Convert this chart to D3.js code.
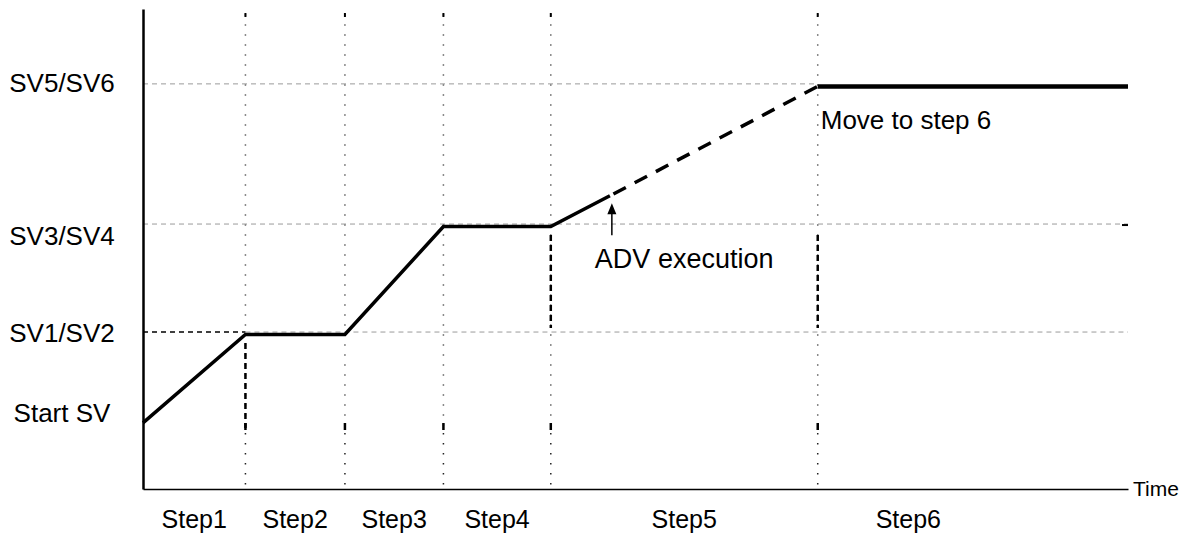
<!DOCTYPE html>
<html>
<head>
<meta charset="utf-8">
<script src="https://cdn.jsdelivr.net/npm/d3@7"></script>
<style>
  html, body { margin: 0; padding: 0; background: #fff; }
  svg { display: block; font-family: "Liberation Sans", Arial, sans-serif; }
</style>
</head>
<body>
<svg id="chart" width="1195" height="538"></svg>
<script>
// Program profile: set-value levels and step boundaries (time units 0..100)
const levelNames  = ["Start SV", "SV1/SV2", "SV3/SV4", "SV5/SV6"];
const levelValues = [14.3, 32.7, 55.2, 84.4];

const stepNames      = ["Step1", "Step2", "Step3", "Step4", "Step5", "Step6"];
const stepBoundaries = [0, 10.4, 20.5, 30.5, 41.4, 68.5, 86.9];

// Profile vertices (time, value); ramp in step 5 is cut short by ADV
const profileTimes  = [0, 10.4, 20.5, 30.5, 41.4, 47.4];
const profileValues = [14.3, 32.7, 32.7, 55.2, 55.2, 61.6];
// Remaining part of the step 5 ramp (skipped), then step 6 soak
const skippedTimes  = [47.4, 68.5];
const skippedValues = [61.6, 84.4];
const soakTimes     = [68.5, 100];
const soakValues    = [84.4, 84.4];

const advTime = 47.6;

const svg = d3.select("#chart");
const x = d3.scaleLinear().domain([0, 100]).range([143, 1128]);
const y = d3.scaleLinear().domain([0, 100]).range([489, 9]);

const gridColor = "#9a9a9a";

// Horizontal reference lines at SV levels (except Start SV)
const hRefs = [
  { v: levelValues[1], x0: stepBoundaries[1], x1: 100 },
  { v: levelValues[2], x0: 0, x1: 100 },
  { v: levelValues[3], x0: 0, x1: stepBoundaries[5] }
];
svg.append("g").selectAll("line").data(hRefs).join("line")
  .attr("x1", d => x(d.x0)).attr("x2", d => x(d.x1))
  .attr("y1", d => y(d.v)).attr("y2", d => y(d.v))
  .attr("stroke", gridColor).attr("stroke-width", 1)
  .attr("stroke-dasharray", "5,4");

// SV1/SV2 lead-in from the axis (darker)
svg.append("line")
  .attr("x1", x(0)).attr("x2", x(stepBoundaries[1]))
  .attr("y1", y(levelValues[1])).attr("y2", y(levelValues[1]))
  .attr("stroke", "#000").attr("stroke-width", 1.5)
  .attr("stroke-dasharray", "5,4");

// small end mark on SV3/SV4 reference
svg.append("line")
  .attr("x1", x(100) - 6).attr("x2", x(100))
  .attr("y1", y(levelValues[2]) + 1).attr("y2", y(levelValues[2]) + 1)
  .attr("stroke", "#000").attr("stroke-width", 2);

// Vertical step dividers
const dividers = stepBoundaries.slice(1, 6);
const vg = svg.append("g");
vg.selectAll("line.upper").data(dividers).join("line").attr("class", "upper")
  .attr("x1", d => x(d)).attr("x2", d => x(d))
  .attr("y1", 14).attr("y2", 428)
  .attr("stroke", "#8a8a8a").attr("stroke-width", 1.5)
  .attr("stroke-dasharray", "2,8");
vg.selectAll("line.lower").data(dividers).join("line").attr("class", "lower")
  .attr("x1", d => x(d)).attr("x2", d => x(d))
  .attr("y1", 433).attr("y2", 489)
  .attr("stroke", "#222").attr("stroke-width", 1.5)
  .attr("stroke-dasharray", "1.5,8.5");
vg.selectAll("line.mark").data(dividers).join("line").attr("class", "mark")
  .attr("x1", d => x(d)).attr("x2", d => x(d))
  .attr("y1", 423).attr("y2", 430)
  .attr("stroke", "#000").attr("stroke-width", 2.5);
vg.selectAll("line.top").data(dividers).join("line").attr("class", "top")
  .attr("x1", d => x(d)).attr("x2", d => x(d))
  .attr("y1", 13).attr("y2", 17)
  .attr("stroke", "#000").attr("stroke-width", 2);

// Drop lines under profile corners
const drops = [
  { t: stepBoundaries[1], v0: levelValues[1], y1: 428 },
  { t: stepBoundaries[4], v0: levelValues[2], y1: 328 },
  { t: stepBoundaries[5], v0: levelValues[2], y1: 328 }
];
svg.append("g").selectAll("line").data(drops).join("line")
  .attr("x1", d => x(d.t)).attr("x2", d => x(d.t))
  .attr("y1", d => y(d.v0) + 11).attr("y2", d => d.y1)
  .attr("stroke", "#000").attr("stroke-width", 2.5)
  .attr("stroke-dasharray", "6,4");

// Axes
const yAxis = d3.axisLeft(y).tickValues(levelValues)
  .tickFormat((d, i) => levelNames[i]).tickSize(0).tickSizeOuter(0);
const yg = svg.append("g").attr("transform", `translate(${x(0)},0)`).call(yAxis);
yg.select(".domain").attr("stroke", "#000").attr("stroke-width", 2.5);
const labelNudge = [-8, 0, 11, -2];
yg.selectAll(".tick text")
  .attr("x", 62 - x(0)).attr("text-anchor", "middle")
  .attr("dy", (d, i) => (0.36 * 26 + labelNudge[i]) + "px")
  .attr("fill", "#000").style("font-size", "26px")
  .style("font-family", "'Liberation Sans', Arial, sans-serif");

const xAxis = d3.axisBottom(x).tickValues([]).tickSizeOuter(0);
const xg = svg.append("g").attr("transform", `translate(0,${y(0)})`).call(xAxis);
xg.select(".domain").attr("stroke", "#000").attr("stroke-width", 1.5);

svg.append("text").attr("x", x(100) + 5).attr("y", y(0) + 7)
  .style("font-size", "21px").text("Time");

// Step labels centred in each interval
svg.append("g").selectAll("text").data(stepNames).join("text")
  .attr("x", (d, i) => (x(stepBoundaries[i]) + x(stepBoundaries[i + 1])) / 2)
  .attr("y", 528).attr("text-anchor", "middle")
  .style("font-size", "25px").text(d => d);

// Program profile
const line = d3.line().x(d => x(d[0])).y(d => y(d[1]));
const prof = svg.append("g").attr("transform", "translate(0,2.5)")
  .attr("fill", "none").attr("stroke", "#000").attr("stroke-width", 3.5);
prof.append("path")
  .attr("d", line(d3.zip(profileTimes, profileValues)))
  .attr("stroke-linejoin", "miter");
prof.append("path")
  .attr("d", line(d3.zip(skippedTimes, skippedValues)))
  .attr("stroke-dasharray", "14,10").attr("stroke-dashoffset", -4);
prof.append("path")
  .attr("d", line(d3.zip(soakTimes, soakValues)))
  .attr("stroke-width", 4.5);

// ADV execution marker
const ax = x(advTime);
const tipY = y(profileValues[5]) + 10;
svg.append("line").attr("x1", ax).attr("x2", ax)
  .attr("y1", tipY + 8).attr("y2", tipY + 32)
  .attr("stroke", "#000").attr("stroke-width", 1.5);
svg.append("path")
  .attr("d", `M${ax},${tipY} L${ax - 4.5},${tipY + 11} L${ax + 4.5},${tipY + 11} Z`)
  .attr("fill", "#000");
svg.append("text").attr("x", ax - 17).attr("y", 268)
  .style("font-size", "27px").text("ADV execution");

svg.append("text").attr("x", x(stepBoundaries[5]) + 3).attr("y", 129)
  .style("font-size", "26px").text("Move to step 6");
</script>
</body>
</html>
